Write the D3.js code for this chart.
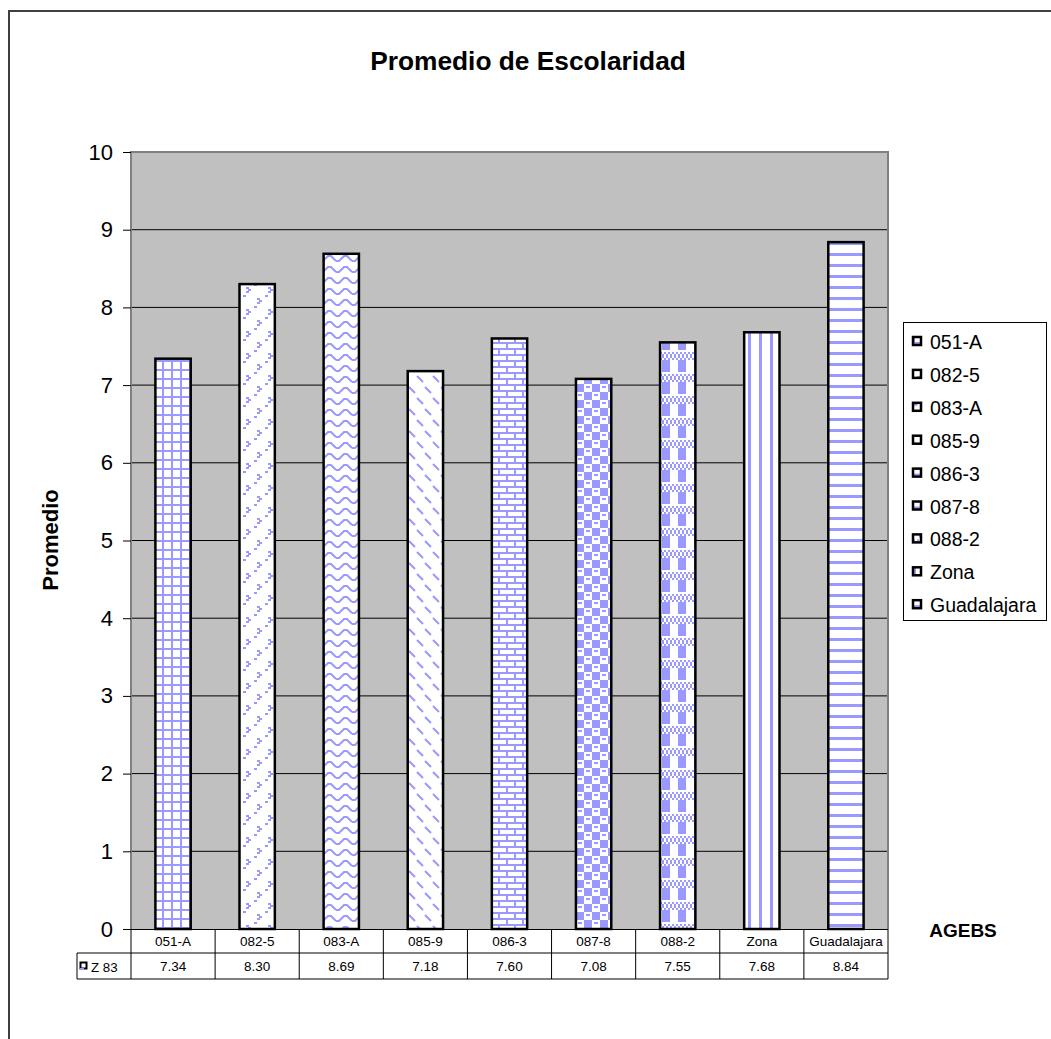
<!DOCTYPE html>
<html><head><meta charset="utf-8">
<script src="https://cdn.jsdelivr.net/npm/d3@7"></script>
<style>body{margin:0;background:#fff}svg{display:block;font-family:Arial,"Liberation Sans",sans-serif}</style>
</head><body><svg id="c" width="1051" height="1039"></svg>
<script>
const categories = ["051-A","082-5","083-A","085-9","086-3","087-8","088-2","Zona","Guadalajara"];
const values = [7.34,8.30,8.69,7.18,7.60,7.08,7.55,7.68,8.84];
const valueLabels = ["7.34","8.30","8.69","7.18","7.60","7.08","7.55","7.68","8.84"];
const yTicks = [0,1,2,3,4,5,6,7,8,9,10];
const seriesName = "Z 83";
const patternIds = ["p0","p1","p2","p3","p4","p5","p6","p7","p8"];

(function(){
const svg = d3.select("#c");
const B = "#9999FF";
const defs = svg.append("defs");
function pat(id,w,h,draw){
  const p = defs.append("pattern").attr("id",id).attr("patternUnits","userSpaceOnUse").attr("width",w).attr("height",h);
  p.append("rect").attr("width",w).attr("height",h).attr("fill","#fff");
  draw(p);
}
function px(p,x,y,w,h){p.append("rect").attr("x",x).attr("y",y).attr("width",w||2).attr("height",h||2).attr("fill",B);}
pat("p0",9,9,p=>{px(p,0,0,9,2);px(p,0,0,2,9);});
pat("p1",22,22,p=>{
  [[4,1],[6,3],[4,5],[15,12],[17,14],[15,16],[1,9],[12,20]].forEach(d=>px(p,d[0],d[1],3,2));
});
pat("p2",16,11,p=>{p.append("path").attr("d","M0,8 L3,8 L8,3 L11,3 L16,8").attr("fill","none").attr("stroke",B).attr("stroke-width",2);});
pat("p3",16,22,p=>{p.append("path").attr("d","M1,2 L7,8 M9,13 L15,19").attr("fill","none").attr("stroke",B).attr("stroke-width",2);});
pat("p4",16,12,p=>{px(p,0,0,16,2);px(p,0,6,16,2);px(p,2,0,2,6);px(p,10,6,2,6);});
pat("p5",16,16,p=>{px(p,0,0,8,8);px(p,8,8,8,8);px(p,10,2,4,2);px(p,2,10,4,2);});
pat("p6",16,22,p=>{
  px(p,6,8,8,12);
  for(let i=0;i<8;i++){px(p,i*2,(i%2)*2);px(p,i*2,4+((i+1)%2)*2);}
});
pat("p7",11,11,p=>{px(p,0,0,3,11);});
pat("p8",11,11,p=>{px(p,0,0,11,3);});

svg.append("rect").attr("x",9).attr("y",11).attr("width",1100).attr("height",1100).attr("fill","none").attr("stroke","#404040").attr("stroke-width",2);

const pL=131, pR=888, pT=152, pB=929;
const x = d3.scaleBand().domain(categories).range([pL,pR]).paddingInner(0.58).paddingOuter(0.29);
const xCell = d3.scaleBand().domain(categories).range([pL,pR]).padding(0);
const y = d3.scaleLinear().domain([0,10]).range([pB,pT]);

svg.append("rect").attr("x",pL).attr("y",pT).attr("width",pR-pL).attr("height",pB-pT).attr("fill","#C0C0C0");
svg.append("g").selectAll("line").data(yTicks.filter(t=>t>0&&t<10)).join("line")
  .attr("x1",pL).attr("x2",pR).attr("y1",d=>y(d)).attr("y2",d=>y(d)).attr("stroke","#000").attr("stroke-width",1);
svg.append("path").attr("d",`M${pL},${pB}V${pT}H${pR}V${pB}`).attr("fill","none").attr("stroke","#808080").attr("stroke-width",2);

const ya = svg.append("g").attr("transform",`translate(${pL},0)`).call(d3.axisLeft(y).tickValues(yTicks).tickSize(8).tickPadding(10).tickFormat(d3.format("d")));
ya.select(".domain").remove();
ya.selectAll("text").attr("font-size",22).attr("fill","#000").attr("font-family","Arial,'Liberation Sans',sans-serif");
ya.selectAll("line").attr("stroke","#000");

svg.append("g").selectAll("rect").data(categories).join("rect")
  .attr("x",d=>x(d)).attr("width",x.bandwidth())
  .attr("y",(d,i)=>y(values[i])).attr("height",(d,i)=>y(0)-y(values[i]))
  .attr("fill",(d,i)=>`url(#${patternIds[i]})`).attr("stroke","#000").attr("stroke-width",2.5);

svg.append("text").attr("x",528).attr("y",70).attr("text-anchor","middle").attr("font-size",26.3).attr("font-weight","bold").text("Promedio de Escolaridad");
svg.append("text").attr("transform","translate(58,540) rotate(-90)").attr("text-anchor","middle").attr("font-size",22).attr("font-weight","bold").text("Promedio");
svg.append("text").attr("x",963).attr("y",937).attr("text-anchor","middle").attr("font-size",19).attr("font-weight","bold").text("AGEBS");

const r1=pB, r2=953, r3=979, tl=77;
const tg = svg.append("g");
tg.selectAll("text.c").data(categories).join("text").attr("class","c")
  .attr("x",d=>xCell(d)+xCell.bandwidth()/2).attr("y",946).attr("text-anchor","middle").attr("font-size",13.5).text(d=>d);
tg.selectAll("text.v").data(valueLabels).join("text").attr("class","v")
  .attr("x",(d,i)=>xCell(categories[i])+xCell.bandwidth()/2).attr("y",971).attr("text-anchor","middle").attr("font-size",13.5).text(d=>d);
const bounds = categories.map(c=>xCell(c)).concat([pR]);
tg.selectAll("line.vb").data(bounds).join("line").attr("class","vb")
  .attr("x1",d=>d).attr("x2",d=>d).attr("y1",r1).attr("y2",r3).attr("stroke","#000").attr("stroke-width",1);
tg.append("line").attr("x1",pL).attr("x2",pR).attr("y1",r1+0.5).attr("y2",r1+0.5).attr("stroke","#000");
tg.append("line").attr("x1",tl).attr("x2",pR).attr("y1",r2).attr("y2",r2).attr("stroke","#000");
tg.append("line").attr("x1",tl).attr("x2",pR).attr("y1",r3).attr("y2",r3).attr("stroke","#000");
tg.append("line").attr("x1",tl).attr("x2",tl).attr("y1",r2).attr("y2",r3).attr("stroke","#000");
tg.append("rect").attr("x",80.5).attr("y",962.5).attr("width",6).attr("height",6).attr("fill","#fff").attr("stroke","#000").attr("stroke-width",2);
tg.append("rect").attr("x",80).attr("y",968).attr("width",4).attr("height",2).attr("fill",B);
tg.append("text").attr("x",91).attr("y",972).attr("font-size",13.3).text(seriesName);

const lg = svg.append("g");
lg.append("rect").attr("x",903.5).attr("y",322.5).attr("width",143).attr("height",298).attr("fill","#fff").attr("stroke","#000");
const li = lg.selectAll("g").data(categories).join("g").attr("transform",(d,i)=>`translate(913,${342+i*32.9})`);
li.append("rect").attr("x",0).attr("y",-5).attr("width",8).attr("height",8).attr("fill",(d,i)=>`url(#${patternIds[i]})`).attr("stroke","#000").attr("stroke-width",2.5);
li.append("text").attr("x",17).attr("y",7).attr("font-size",19.5).text(d=>d);
})();
</script></body></html>
